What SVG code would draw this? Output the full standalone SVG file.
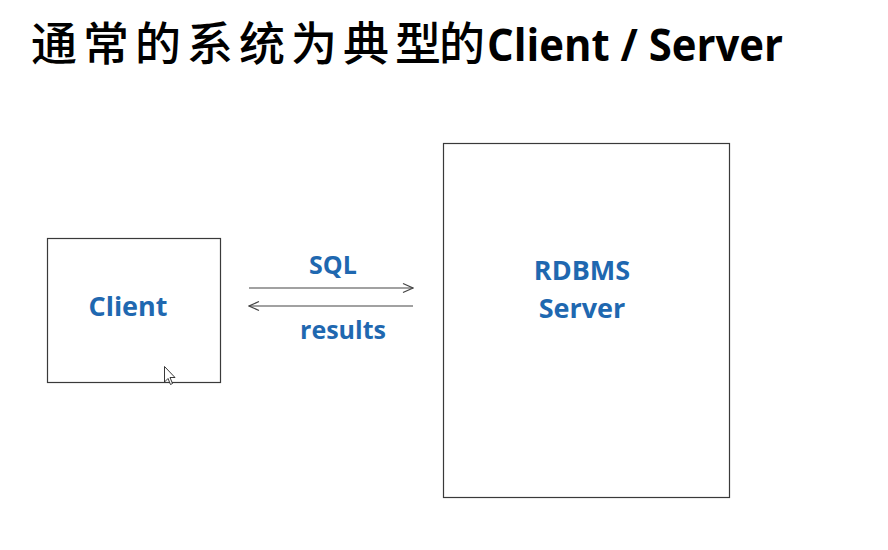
<svg xmlns="http://www.w3.org/2000/svg" width="888" height="550" viewBox="0 0 888 550">
<defs>
<style>
.box{fill:#fff;stroke:#3a3a3a;stroke-width:1.2}
.lbl{font-family:"Open Sans","Noto Sans",sans-serif;font-weight:bold;fill:#1f68b0;text-anchor:middle}
.conn{stroke:#444;stroke-width:1.2;fill:none}
</style>
<marker id="arr" viewBox="0 0 12 12" refX="11" refY="6" markerWidth="12" markerHeight="12" markerUnits="userSpaceOnUse" orient="auto">
<path d="M1,1.5 L11,6 L1,10.5" fill="none" stroke="#444" stroke-width="1.2"/>
</marker>
</defs>
<rect width="888" height="550" fill="#fff"/>
<g id="title">
<text y="60" font-family="'Noto Sans CJK SC','Noto Sans CJK TC',sans-serif" font-weight="500" font-size="46" fill="#000"><tspan x="31 83 135 187 239 291 343 395 439">通常的系统为典型的</tspan></text>
<text x="487" y="61" font-family="'Open Sans','Noto Sans',sans-serif" font-weight="bold" font-size="44" fill="#000" textLength="296" lengthAdjust="spacingAndGlyphs">Client / Server</text>
</g>
<g id="client">
<rect class="box" x="47.5" y="238.5" width="173" height="144"/>
<text class="lbl" x="128" y="316" font-size="27">Client</text>
</g>
<g id="server">
<rect class="box" x="443.5" y="143.5" width="286" height="354"/>
<text class="lbl" x="582" y="280" font-size="27">RDBMS</text>
<text class="lbl" x="582" y="318" font-size="27">Server</text>
</g>
<g id="connectors">
<line class="conn" x1="249" y1="288" x2="413" y2="288" marker-end="url(#arr)"/>
<line class="conn" x1="413" y1="306" x2="249" y2="306" marker-end="url(#arr)"/>
<text class="lbl" x="333" y="274" font-size="25">SQL</text>
<text class="lbl" x="343" y="339" font-size="25">results</text>
</g>
<g id="cursor">
<path d="M164.5,366.5 L164.5,382 L168,378.5 L170.5,384.5 L172.5,383.5 L170,377.5 L175,377.5 Z" fill="#fff" stroke="#222" stroke-width="0.9" stroke-linejoin="round"/>
</g>
</svg>
